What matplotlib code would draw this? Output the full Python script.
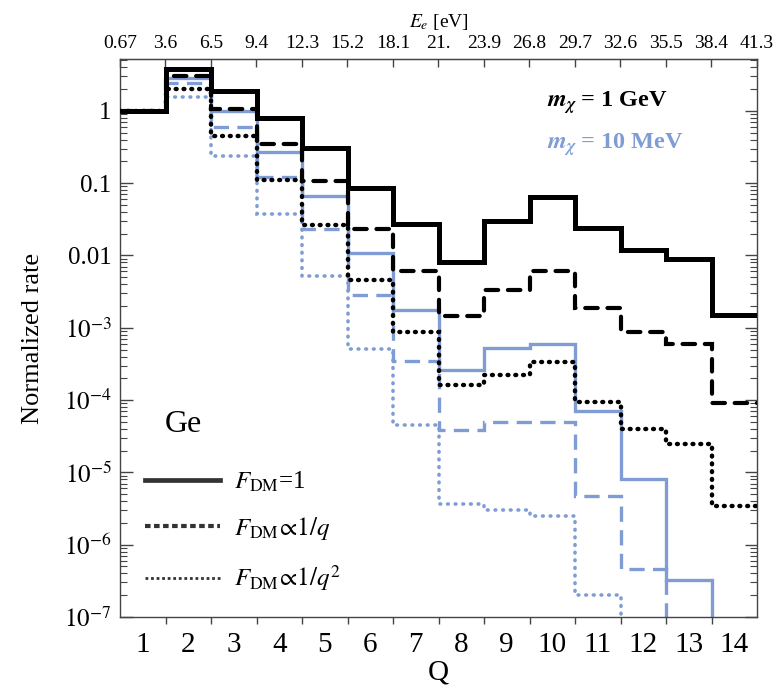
import numpy as np
import matplotlib
matplotlib.use('Agg')
import matplotlib.pyplot as plt
from matplotlib.lines import Line2D
from matplotlib.ticker import FixedLocator, FuncFormatter, LogLocator, NullFormatter

plt.rcParams['font.family'] = ['Liberation Serif', 'DejaVu Serif']
plt.rcParams['mathtext.fontset'] = 'stix'
plt.rcParams['lines.scale_dashes'] = False

# ---------------- data ----------------
Q = list(range(1, 15))
E_e_labels = ['0.67', '3.6', '6.5', '9.4', '12.3', '15.2', '18.1', '21.',
              '23.9', '26.8', '29.7', '32.6', '35.5', '38.4', '41.3']

# m_chi = 1 GeV (black)
gev_f1 = [1, 3.8, 1.9, 0.79, 0.31, 0.085, 0.027, 0.0082, 0.030, 0.064,
          0.0237, 0.0119, 0.0088, 0.00149]
gev_fq = [1, 3.05, 1.07, 0.35, 0.108, 0.023, 0.006, 0.00145, 0.0033, 0.006,
          0.00185, 0.00086, 0.00059, 9.1e-5]
gev_fq2 = [1, 2.0, 0.45, 0.111, 0.026, 0.0046, 0.00088, 1.64e-4, 2.25e-4,
           3.4e-4, 9.4e-5, 4.0e-5, 2.44e-5, 3.4e-6]
# m_chi = 10 MeV (blue); 1e-9 = below the plotted range
mev_f1 = [1, 2.84, 1.0, 0.27, 0.067, 0.0107, 0.00175, 2.6e-4, 5.3e-4,
          6.05e-4, 7.1e-5, 8.0e-6, 3.3e-7, 1e-9]
mev_fq = [1, 2.4, 0.59, 0.123, 0.0235, 0.0028, 3.5e-4, 3.8e-5, 5.0e-5,
          5.0e-5, 4.65e-6, 4.6e-7, 1e-9, 1e-9]
mev_fq2 = [1, 1.53, 0.24, 0.037, 0.0052, 5.1e-4, 4.5e-5, 3.7e-6, 3.0e-6,
           2.5e-6, 2.0e-7, 1e-9, 1e-9, 1e-9]

legend_labels = [r'$F_{\mathrm{DM}}$=1', r'$F_{\mathrm{DM}}\!\propto\!1/q$',
                 r'$F_{\mathrm{DM}}\!\propto\!1/q^2$']

BLUE = '#7f9dd4'
BLACK = '#000000'

edges = [q - 0.5 for q in Q] + [Q[-1] + 0.5]

fig = plt.figure(figsize=(7.84, 6.94), dpi=100)
ax = fig.add_axes([120 / 784, 1 - 617 / 694, 637 / 784, 558 / 694])
ax.set_yscale('log')

# blue series first
ax.stairs(mev_fq2, edges, baseline=None, color=BLUE, lw=2.6,
          linestyle=(0, (0.5, 5.0)), capstyle='round', zorder=2)
ax.stairs(mev_fq, edges, baseline=None, color=BLUE, lw=2.4,
          linestyle=(0, (11, 6)), zorder=2)
ax.stairs(mev_f1, edges, baseline=None, color=BLUE, lw=2.4,
          linestyle='-', zorder=2)
# black series
ax.stairs(gev_fq2, edges, baseline=None, color=BLACK, lw=3.2,
          linestyle=(0, (0.6, 5.0)), capstyle='round', zorder=3)
ax.stairs(gev_fq, edges, baseline=None, color=BLACK, lw=3.0,
          linestyle=(0, (9, 7)), capstyle='round', zorder=3)
ax.stairs(gev_f1, edges, baseline=None, color=BLACK, lw=3.6,
          linestyle='-', zorder=4)

ax.set_xlim(edges[0], edges[-1])
ax.set_ylim(1e-7, 5.2)

# y ticks
major_y = [1e-7, 1e-6, 1e-5, 1e-4, 1e-3, 1e-2, 1e-1, 1]


def yfmt(v, pos):
    e = int(round(np.log10(v)))
    if e == 0:
        return '1'
    if e == -1:
        return '0.1'
    if e == -2:
        return '0.01'
    return r'$10^{%d}$' % e


ax.yaxis.set_major_locator(FixedLocator(major_y))
ax.yaxis.set_major_formatter(FuncFormatter(yfmt))
ax.yaxis.set_minor_locator(LogLocator(base=10, subs=np.arange(2, 10), numticks=30))
ax.yaxis.set_minor_formatter(NullFormatter())
ax.tick_params(axis='y', which='major', direction='in', length=9, width=1,
               labelsize=18, left=True, right=True, pad=6, color='#444444')
ax.tick_params(axis='y', which='minor', direction='in', length=5, width=0.8,
               left=True, right=True, color='#444444')

# x ticks
ax.set_xticks(Q)
ax.set_xticklabels([str(q) for q in Q])
ax.xaxis.set_minor_locator(FixedLocator(edges[1:-1]))
ax.tick_params(axis='x', which='major', length=0, labelsize=21, pad=11, top=False)
ax.tick_params(axis='x', which='minor', direction='out', length=5, width=1,
               top=False, color='#444444')

for s in ax.spines.values():
    s.set_linewidth(1.0)
    s.set_color('#444444')

# top axis
sec = ax.secondary_xaxis('top')
sec.set_xticks(edges)
sec.set_xticklabels(E_e_labels)
sec.tick_params(axis='x', direction='in', length=6, width=1, labelsize=14,
                pad=5, color='#444444')
sec.spines['top'].set_color('#444444')
sec.set_xlabel(r'$E_e$ [eV]', fontsize=14, labelpad=6)

ax.set_xlabel('Q', fontsize=21, labelpad=1)
ax.set_ylabel('Normalized rate', fontsize=19, labelpad=14)

# annotations
ax.text(0.670, 0.921, r'$\mathbfit{m}_{\mathbfit{\chi}}$ = 1 GeV', transform=ax.transAxes,
        fontsize=17.5, fontweight='bold', color=BLACK, ha='left', va='center')
ax.text(0.670, 0.846, r'$\mathbfit{m}_{\mathbfit{\chi}}$ = 10 MeV', transform=ax.transAxes,
        fontsize=17.5, fontweight='bold', color=BLUE, ha='left', va='center')
ax.text(0.099, 0.345, 'Ge', transform=ax.transAxes, fontsize=23,
        ha='center', va='center')

handles = [Line2D([], [], color='#333333', lw=3.4, linestyle='-'),
           Line2D([], [], color='#333333', lw=3.0, linestyle=(0, (4, 2.5))),
           Line2D([], [], color='#333333', lw=2.0, linestyle=(0, (2, 2)))]
ax.legend(handles, legend_labels, loc='upper left', bbox_to_anchor=(0.039, 0.264),
          frameon=False, fontsize=18, handlelength=3.0, handletextpad=0.55,
          labelspacing=0.85, borderpad=0, borderaxespad=0)

fig.savefig('out.png', dpi=100)
